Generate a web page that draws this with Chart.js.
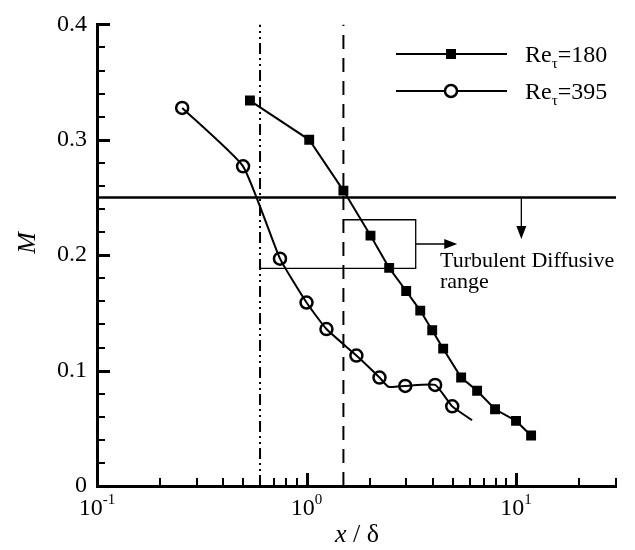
<!DOCTYPE html>
<html>
<head>
<meta charset="utf-8">
<script src="https://cdn.jsdelivr.net/npm/chart.js@4.4.1/dist/chart.umd.min.js"></script>
<style>
  html, body { margin: 0; padding: 0; background: #fff; }
</style>
</head>
<body>
<canvas id="myChart" width="635" height="550"></canvas>
<script>
// valeurs
var re180X = [0.537, 1.03, 1.5, 2.02, 2.48, 2.99, 3.49, 3.98, 4.49, 5.47, 6.52, 7.94, 10.0, 11.8];
var re180Y = [0.334, 0.300, 0.256, 0.217, 0.189, 0.169, 0.152, 0.135, 0.119, 0.094, 0.0825, 0.0665, 0.0564, 0.0438];

var re395X = [0.255, 0.498, 0.747, 1.0, 1.245, 1.73, 2.23, 2.46, 2.96, 4.11, 4.96, 6.17];
var re395Y = [0.3276, 0.277, 0.197, 0.159, 0.136, 0.113, 0.094, 0.086, 0.0867, 0.0876, 0.069, 0.057];
var re395Marked = [1, 1, 1, 1, 1, 1, 1, 0, 1, 1, 1, 0];

var yTicks = [0, 0.1, 0.2, 0.3, 0.4];
var xDecades = [-1, 0, 1];
var xMin = 0.1, xMax = 30;

// lignes de repere
var mLevel = 0.25;
var xDashDot = 0.6;
var xDashed = 1.5;
var bracketTopY = 0.2307, bracketLowY = 0.1886, bracketRightX = 3.32;

var FONT = '"Liberation Serif", "Times New Roman", serif';

function pts(xs, ys) {
    return xs.map(function (x, i) { return { x: x, y: ys[i] }; });
}

function refLine(data, dash, width) {
    return {
        data: data,
        borderColor: '#000',
        borderWidth: width,
        borderDash: dash,
        pointRadius: 0,
        fill: false,
        tension: 0
    };
}

// graduations du log : 1..9 x 10^n jusqu'a xMax
var xTickVals = [];
xDecades.forEach(function (d) {
    for (var k = 1; k <= 9; k++) {
        var v = k * Math.pow(10, d);
        if (v <= xMax * 1.0001) xTickVals.push({ v: v, major: k === 1 });
    }
});

var drawExtras = {
    id: 'drawExtras',
    afterDraw: function (chart) {
        var ctx = chart.ctx;
        var xs = chart.scales.x, ys = chart.scales.y;
        ctx.save();
        ctx.setLineDash([]);
        ctx.strokeStyle = '#000';
        ctx.fillStyle = '#000';

        // etiquettes 10^n
        ctx.textBaseline = 'alphabetic';
        xDecades.forEach(function (d) {
            var px = xs.getPixelForValue(Math.pow(10, d));
            ctx.font = '24px ' + FONT;
            var w1 = ctx.measureText('10').width;
            ctx.font = '15px ' + FONT;
            var sup = String(d);
            var w2 = ctx.measureText(sup).width;
            var x0 = px - (w1 + w2) / 2;
            ctx.font = '24px ' + FONT;
            ctx.textAlign = 'left';
            ctx.fillText('10', x0, 515);
            ctx.font = '15px ' + FONT;
            ctx.fillText(sup, x0 + w1, 504);
        });

        // titres des axes
        ctx.font = 'italic 26px ' + FONT;
        var wx = ctx.measureText('x').width;
        ctx.font = '26px ' + FONT;
        var ws = ctx.measureText(' / ').width;
        var wd = ctx.measureText('\u03b4').width;
        var cx = 357 - (wx + ws + wd) / 2;
        ctx.font = 'italic 26px ' + FONT;
        ctx.fillText('x', cx, 542);
        ctx.font = '26px ' + FONT;
        ctx.fillText(' / ', cx + wx, 542);
        ctx.fillText('\u03b4', cx + wx + ws, 542);

        ctx.save();
        ctx.translate(35, 243);
        ctx.rotate(-Math.PI / 2);
        ctx.font = 'italic 26px ' + FONT;
        ctx.textAlign = 'center';
        ctx.fillText('M', 0, 0);
        ctx.restore();

        // legende
        var legend = [
            { y: 54, label: '180', style: 'rect' },
            { y: 91, label: '395', style: 'circle' }
        ];
        legend.forEach(function (l) {
            ctx.lineWidth = 2;
            ctx.beginPath();
            ctx.moveTo(396, l.y);
            ctx.lineTo(507, l.y);
            ctx.stroke();
            if (l.style === 'rect') {
                ctx.fillRect(451 - 5, l.y - 5, 10, 10);
            } else {
                ctx.fillStyle = '#fff';
                ctx.lineWidth = 2.5;
                ctx.beginPath();
                ctx.arc(451, l.y, 6, 0, Math.PI * 2);
                ctx.fill();
                ctx.stroke();
                ctx.fillStyle = '#000';
            }
            ctx.textAlign = 'left';
            ctx.font = '24px ' + FONT;
            var tx = 525;
            ctx.fillText('Re', tx, l.y + 8);
            tx += ctx.measureText('Re').width;
            ctx.font = '15px ' + FONT;
            ctx.fillText('\u03c4', tx, l.y + 14);
            tx += ctx.measureText('\u03c4').width;
            ctx.font = '24px ' + FONT;
            ctx.fillText('=' + l.label, tx, l.y + 8);
        });

        // fleches
        var ax = xs.getPixelForValue(10.6);
        var ay0 = ys.getPixelForValue(mLevel);
        var ay1 = ys.getPixelForValue(0.214);
        ctx.lineWidth = 1.3;
        ctx.beginPath();
        ctx.moveTo(ax, ay0);
        ctx.lineTo(ax, ay1 - 10);
        ctx.stroke();
        ctx.beginPath();
        ctx.moveTo(ax, ay1);
        ctx.lineTo(ax - 5, ay1 - 13);
        ctx.lineTo(ax + 5, ay1 - 13);
        ctx.closePath();
        ctx.fill();

        var bx = xs.getPixelForValue(bracketRightX);
        var bx1 = xs.getPixelForValue(5.24);
        var by = ys.getPixelForValue(0.2097);
        ctx.beginPath();
        ctx.moveTo(bx, by);
        ctx.lineTo(bx1 - 10, by);
        ctx.stroke();
        ctx.beginPath();
        ctx.moveTo(bx1, by);
        ctx.lineTo(bx1 - 13, by - 5);
        ctx.lineTo(bx1 - 13, by + 5);
        ctx.closePath();
        ctx.fill();

        ctx.font = '22px ' + FONT;
        ctx.textAlign = 'left';
        ctx.fillText('Turbulent Diffusive', 440, 267);
        ctx.fillText('range', 440, 288);

        // graduations vers l'interieur, tracees en dernier
        var left = Math.round(xs.left), bottom = Math.round(ys.bottom);
        ctx.fillStyle = '#000';
        for (var j = 0; j < xTickVals.length; j++) {
            var t = xTickVals[j];
            var px = Math.round(xs.getPixelForValue(t.v));
            if (t.major) {
                ctx.fillRect(px - 1, bottom - 13, 3, 13);
            } else {
                ctx.fillRect(px - 1, bottom - 8, 2, 8);
            }
        }
        for (var i = 0; i <= 20; i++) {
            var py = Math.round(ys.getPixelForValue(i * 0.02));
            if (i % 5 === 0) {
                ctx.fillRect(left, py - 1, 13, 3);
            } else {
                ctx.fillRect(left, py - 1, 8, 2);
            }
        }

        ctx.restore();
    }
};

document.addEventListener('DOMContentLoaded', function () {
    var ctx = document.getElementById('myChart').getContext('2d');
    var myChart = new Chart(ctx, {
        type: 'line',
        data: {
            datasets: [
                {
                    label: 'Re180',
                    data: pts(re180X, re180Y),
                    borderColor: '#000',
                    borderWidth: 2,
                    pointStyle: 'rect',
                    pointRadius: 7,
                    pointBackgroundColor: '#000',
                    pointBorderWidth: 0,
                    tension: 0,
                    fill: false
                },
                {
                    label: 'Re395',
                    data: pts(re395X, re395Y),
                    borderColor: '#000',
                    borderWidth: 2,
                    pointStyle: 'circle',
                    pointRadius: re395Marked.map(function (m) { return m ? 6 : 0; }),
                    pointBackgroundColor: 'rgba(0,0,0,0)',
                    pointBorderColor: '#000',
                    pointBorderWidth: 2.5,
                    tension: 0.15,
                    fill: false
                },
                refLine([{ x: xMin, y: mLevel }, { x: xMax, y: mLevel }], [], 2.5),
                refLine([{ x: xDashDot, y: 0 }, { x: xDashDot, y: 0.4 }], [11, 4, 2, 4, 2, 4], 2),
                refLine([{ x: xDashed, y: 0 }, { x: xDashed, y: 0.4 }], [14, 9], 2),
                refLine([{ x: xDashed, y: bracketTopY }, { x: bracketRightX, y: bracketTopY },
                         { x: bracketRightX, y: bracketLowY }, { x: xDashDot, y: bracketLowY }], [], 1.3)
            ]
        },
        options: {
            responsive: false,
            animation: false,
            layout: { padding: { left: 0, right: 19, top: 11, bottom: 0 } },
            plugins: { legend: { display: false }, tooltip: { enabled: false } },
            scales: {
                x: {
                    type: 'logarithmic',
                    min: xMin,
                    max: xMax,
                    grid: { display: false, drawTicks: false },
                    border: { display: true, color: '#000', width: 3 },
                    ticks: { display: false },
                    afterFit: function (scale) { scale.height = 64; }
                },
                y: {
                    min: 0,
                    max: 0.4,
                    grid: { display: false, drawTicks: false },
                    border: { display: true, color: '#000', width: 3 },
                    afterBuildTicks: function (scale) {
                        scale.ticks = yTicks.map(function (v) { return { value: v }; });
                    },
                    ticks: {
                        color: '#000',
                        padding: 10,
                        font: { family: FONT, size: 24 },
                        callback: function (v) { return String(Math.round(v * 10) / 10); }
                    },
                    afterFit: function (scale) { scale.width = 97; }
                }
            }
        },
        plugins: [drawExtras]
    });
});
</script>
</body>
</html>
